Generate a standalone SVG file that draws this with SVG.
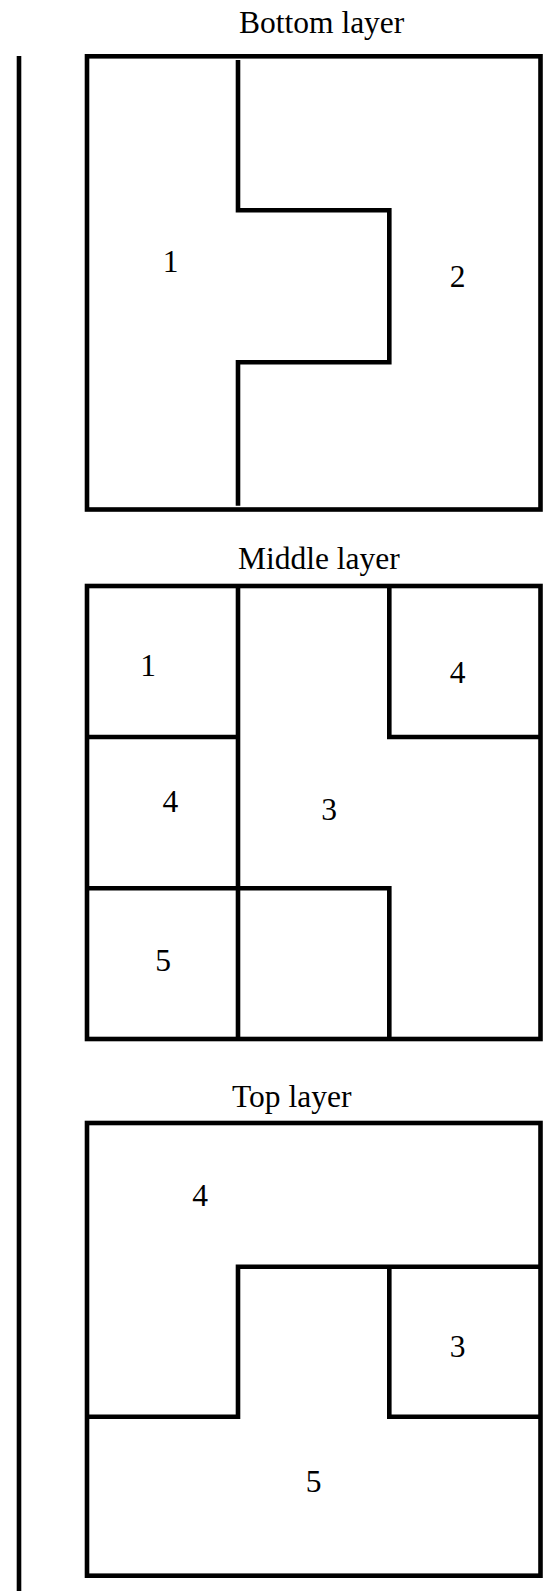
<svg xmlns="http://www.w3.org/2000/svg" width="544" height="1592" viewBox="0 0 544 1592">
<style>
.ln{fill:none;stroke:#000;stroke-width:4.6;stroke-linejoin:miter;stroke-linecap:butt}
.t{font-family:"Liberation Serif","Times New Roman",serif;font-size:31.5px;fill:#000}
.c{text-anchor:middle}
</style>
<rect x="0" y="0" width="544" height="1592" fill="#fff"/>
<line id="axis" class="ln" x1="19" y1="56" x2="19" y2="1591"/>
<g id="bottom-layer">
<text class="t" x="239" y="33">Bottom layer</text>
<rect class="ln" x="87" y="56.3" width="453.5" height="453.2"/>
<path class="ln" d="M238,60 V210.3 H389.3 V362.3 H238 V505.7"/>
<text class="t c" x="170.5" y="272">1</text>
<text class="t c" x="457.5" y="287">2</text>
</g>
<g id="middle-layer">
<text class="t" x="238" y="569">Middle layer</text>
<rect class="ln" x="87" y="586" width="453.5" height="453"/>
<path class="ln" d="M238,586 V1039"/>
<path class="ln" d="M87,737 H238"/>
<path class="ln" d="M87,888.3 H389.3 V1039"/>
<path class="ln" d="M389.3,586 V737 H540.5"/>
<text class="t c" x="148" y="676">1</text>
<text class="t c" x="457.5" y="683">4</text>
<text class="t c" x="170.3" y="812">4</text>
<text class="t c" x="329" y="820">3</text>
<text class="t c" x="163" y="971">5</text>
</g>
<g id="top-layer">
<text class="t" x="232" y="1107">Top layer</text>
<rect class="ln" x="87" y="1123" width="453.5" height="452.7"/>
<path class="ln" d="M540.5,1266.7 H238 V1416.7 H87"/>
<path class="ln" d="M389.3,1266.7 V1416.7 H540.5"/>
<text class="t c" x="200" y="1206">4</text>
<text class="t c" x="457.5" y="1357">3</text>
<text class="t c" x="313.7" y="1492">5</text>
</g>
</svg>
